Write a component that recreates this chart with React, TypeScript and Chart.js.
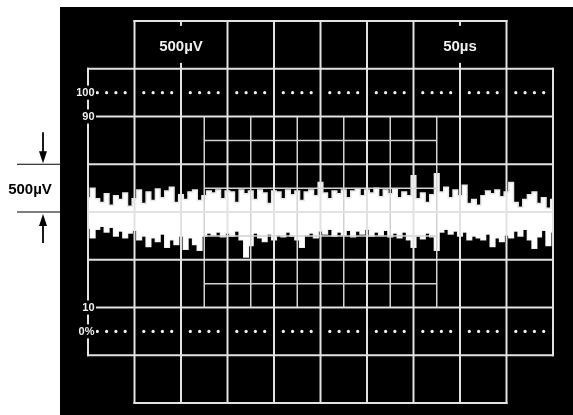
import { useEffect, useRef } from "react";
import { Chart, registerables } from "chart.js";

Chart.register(...registerables);

// Sweep time in microseconds (50 µs / div, 10 divisions)
const timeUs = [
  0, 5, 10, 15, 20, 25, 30, 35, 40, 45, 50, 55, 60, 65, 70, 75, 80, 85, 90, 95,
  100, 105, 110, 115, 120, 125, 130, 135, 140, 145, 150, 155, 160, 165, 170, 175, 180, 185, 190, 195,
  200, 205, 210, 215, 220, 225, 230, 235, 240, 245, 250, 255, 260, 265, 270, 275, 280, 285, 290, 295,
  300, 305, 310, 315, 320, 325, 330, 335, 340, 345, 350, 355, 360, 365, 370, 375, 380, 385, 390, 395,
  400, 405, 410, 415, 420, 425, 430, 435, 440, 445, 450, 455, 460, 465, 470, 475, 480, 485, 490, 495,
  500,
];

// Upper envelope of the noise trace, microvolts (500 µV / div)
const upperUv = [
  150, 250, 140, 100, 190, 70, 170, 130, 200, 60,
  140, 230, 90, 210, 120, 240, 150, 220, 260, 100,
  180, 130, 210, 230, 120, 170, 220, 200, 230, 140,
  220, 210, 100, 230, 190, 220, 130, 230, 200, 90,
  220, 210, 140, 230, 180, 220, 120, 210, 230, 170,
  310, 200, 140, 220, 190, 230, 150, 220, 240, 170,
  230, 200, 250, 160, 230, 190, 240, 150, 210, 170,
  380, 140, 200, 100, 180, 400, 210, 260, 150, 230,
  170, 280, 90, 130, 70, 170, 220, 190, 230, 160,
  210, 310, 100, 50, 130, 180, 210, 90, 150, 40,
  130,
];

// Lower envelope of the noise trace, microvolts
const lowerUv = [
  -170, -270, -180, -150, -210, -160, -250, -200, -270, -220,
  -190, -290, -250, -360, -270, -310, -230, -370, -290, -340,
  -250, -390, -270, -340, -400, -250, -220, -240, -210, -260,
  -220, -250, -200, -290, -470, -350, -220, -270, -310, -230,
  -290, -240, -260, -210, -250, -290, -370, -240, -220, -270,
  -200, -230, -180, -250, -210, -240, -190, -260, -200, -230,
  -180, -250, -210, -240, -190, -260, -220, -270, -210, -290,
  -370, -250, -280, -220, -260, -400, -210, -180, -230, -200,
  -250, -210, -290, -250, -270, -290, -230, -360, -270, -310,
  -240, -270, -200, -250, -180, -290, -380, -260, -190, -350,
  -210,
];

const voltsPerDiv = 500;
const timePerDiv = 50;
const percentLabels = ["100", "90", "10", "0%"];
const percentLevels = [6.5, 6, 2, 1.5]; // in divisions from bottom of graticule
const dottedLevels = [6.5, 1.5];
const topLabels = ["500\u00b5V", "50\u00b5s"];
const topLabelDivs = [2, 8];
const sideLabel = "500\u00b5V";

const FONT = '"Liberation Sans", Arial, Helvetica, sans-serif';

const graticule = {
  id: "graticule",
  beforeDraw(chart: any) {
    const { ctx } = chart;
    ctx.save();
    ctx.fillStyle = "#ffffff";
    ctx.fillRect(0, 0, chart.width, chart.height);
    ctx.fillStyle = "#000000";
    ctx.fillRect(60, 7, chart.width - 60, chart.height - 7);
    ctx.restore();
  },
  afterDatasetsDraw(chart: any) {
    const { ctx } = chart;
    const xs = chart.scales.x;
    const ys = chart.scales.y;
    const X = (d: number) => xs.getPixelForValue(d * timePerDiv);
    const Y = (d: number) => ys.getPixelForValue((d - 4) * voltsPerDiv);
    ctx.save();

    const line = (x0: number, y0: number, x1: number, y1: number) => {
      ctx.beginPath();
      ctx.moveTo(x0, y0);
      ctx.lineTo(x1, y1);
      ctx.stroke();
    };
    const h = (d: number, a: number, b: number) => line(X(a), Y(d), X(b), Y(d));
    const v = (c: number, a: number, b: number) => line(X(c), Y(a), X(c), Y(b));

    // fine sub-grid (10%..90%, centre five divisions)
    ctx.strokeStyle = "#d2d2d2";
    ctx.lineWidth = 1.5;
    ctx.lineCap = "butt";
    for (let c = 2.5; c <= 7.5; c += 1) v(c, 2, 6);
    for (let d = 2.5; d <= 5.5; d += 1) h(d, 2.5, 7.5);

    // main graticule
    ctx.strokeStyle = "#e2e2e2";
    ctx.lineWidth = 2;
    ctx.lineCap = "square";
    h(8, 1, 9);
    h(0, 1, 9);
    for (let d = 1; d <= 7; d++) h(d, 0, 10);
    v(0, 1, 7);
    v(10, 1, 7);
    for (let c = 1; c <= 9; c++) v(c, 0, 8);

    // dotted 0% and 100% lines
    ctx.fillStyle = "#f2f2f2";
    dottedLevels.forEach((d) => {
      for (let i = 1; i < 50; i++) {
        if (i % 5 === 0) continue;
        ctx.beginPath();
        ctx.arc(X(i / 5), Y(d), 1.6, 0, Math.PI * 2);
        ctx.fill();
      }
    });

    // percent labels on the left edge
    ctx.font = `bold 11px ${FONT}`;
    ctx.textAlign = "right";
    ctx.textBaseline = "middle";
    percentLabels.forEach((t, i) => {
      const y = Y(percentLevels[i]);
      ctx.fillStyle = "#000";
      ctx.fillRect(X(0) - 16, y - 7, 24, 14);
      ctx.fillStyle = "#f0f0f0";
      ctx.fillText(t, X(0) + 6.5, y + 0.5);
    });

    // scale labels in the top band
    ctx.font = `bold 15px ${FONT}`;
    ctx.textAlign = "center";
    topLabels.forEach((t, i) => {
      const x = X(topLabelDivs[i]);
      const y = Y(7.5);
      const w = ctx.measureText(t).width;
      ctx.fillStyle = "#000";
      ctx.fillRect(x - w / 2 - 4, y - 19, w + 8, 37);
      ctx.fillStyle = "#f0f0f0";
      ctx.fillText(t, x, y + 1.5);
    });

    // left side annotation (one division = 500 µV)
    const yA = Y(5);
    const yB = Y(4);
    ctx.strokeStyle = "#000";
    ctx.fillStyle = "#000";
    ctx.lineWidth = 1.2;
    ctx.lineCap = "butt";
    line(17, yA, 60, yA);
    line(17, yB, 60, yB);
    const ax = 43;
    ctx.lineWidth = 1.8;
    line(ax, yA - 32, ax, yA - 12);
    line(ax, yB + 12, ax, yB + 31);
    ctx.beginPath();
    ctx.moveTo(ax - 4, yA - 13);
    ctx.lineTo(ax + 4, yA - 13);
    ctx.lineTo(ax, yA - 1);
    ctx.closePath();
    ctx.fill();
    ctx.beginPath();
    ctx.moveTo(ax - 4, yB + 14);
    ctx.lineTo(ax + 4, yB + 14);
    ctx.lineTo(ax, yB + 2);
    ctx.closePath();
    ctx.fill();
    ctx.font = `bold 15px ${FONT}`;
    ctx.textAlign = "center";
    ctx.textBaseline = "middle";
    ctx.fillText(sideLabel, 30, (yA + yB) / 2 + 1.5);

    ctx.restore();
  },
};

export default function App() {
  const ref = useRef<HTMLCanvasElement | null>(null);
  useEffect(() => {
    if (!ref.current) return;
    const chart = new Chart(ref.current, {
      type: "line",
      data: {
        datasets: [
          {
            label: "upper",
            data: timeUs.map((t, i) => ({ x: t, y: upperUv[i] })),
            borderColor: "#e8e8e8",
            backgroundColor: "#ffffff",
            borderWidth: 1.5,
            pointRadius: 0,
            stepped: "middle",
            fill: "+1",
          },
          {
            label: "lower",
            data: timeUs.map((t, i) => ({ x: t, y: lowerUv[i] })),
            borderColor: "#e8e8e8",
            backgroundColor: "#ffffff",
            borderWidth: 1.5,
            pointRadius: 0,
            stepped: "middle",
            fill: false,
          },
        ],
      },
      options: {
        responsive: false,
        animation: false,
        devicePixelRatio: 1,
        layout: { padding: { left: 88, right: 20, top: 21, bottom: 12 } },
        scales: {
          x: { type: "linear", min: 0, max: 500, display: false },
          y: { type: "linear", min: -2000, max: 2000, display: false },
        },
        plugins: { legend: { display: false }, tooltip: { enabled: false } },
      },
      plugins: [graticule],
    });
    return () => chart.destroy();
  }, []);
  return (
    <div style={{ position: "absolute", left: 0, top: 0, width: 573, height: 415 }}>
      <canvas ref={ref} width={573} height={415} />
    </div>
  );
}
